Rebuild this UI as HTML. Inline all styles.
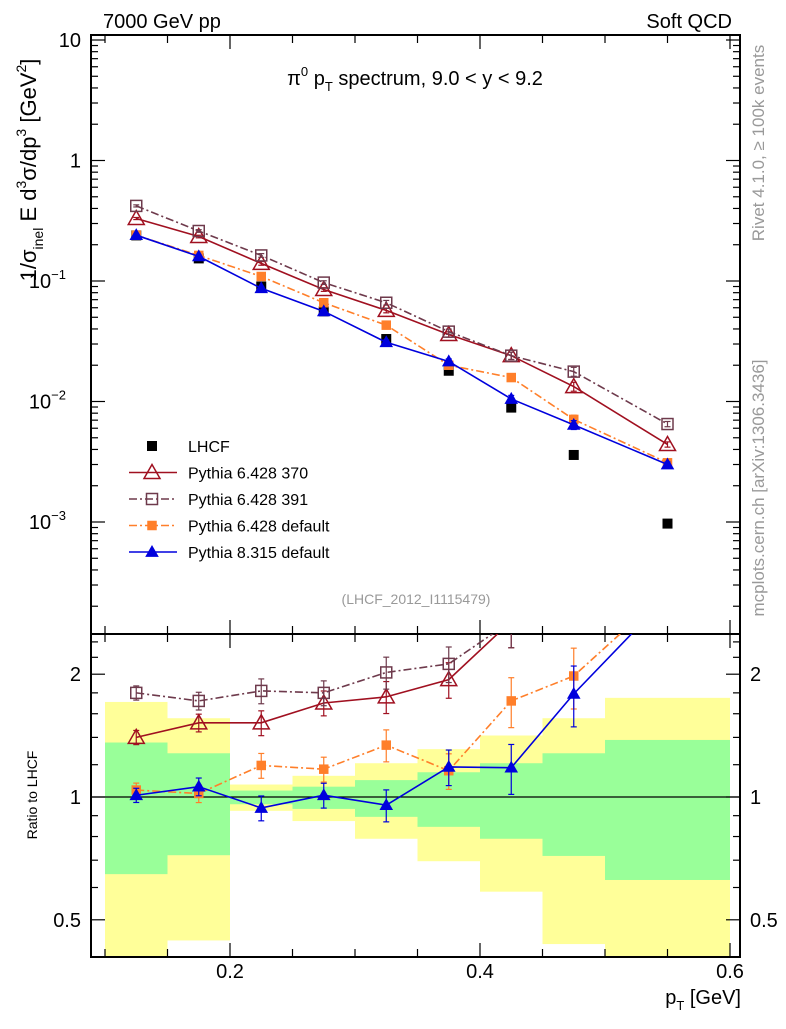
<!DOCTYPE html>
<html><head><meta charset="utf-8"><style>
body{margin:0;background:#fff}
svg{font-family:"Liberation Sans",sans-serif}
</style></head><body>
<svg id="c" width="786" height="1024" xmlns="http://www.w3.org/2000/svg"></svg>
<script>
const binEdges=[0.1,0.15,0.2,0.25,0.3,0.35,0.4,0.45,0.5,0.6];
const xVals=[0.125,0.175,0.225,0.275,0.325,0.375,0.425,0.475,0.55];
const lhcf=[0.239,0.154,0.090,0.056,0.033,0.018,0.0089,0.0036,0.00097];
const py370=[0.33,0.234,0.14,0.085,0.057,0.036,0.024,0.0133,0.0044];
const py391=[0.42,0.26,0.163,0.097,0.066,0.038,0.024,0.0177,0.0065];
const py6def=[0.24,0.163,0.109,0.066,0.043,0.020,0.0158,0.0071,0.0031];
const py8=[0.24,0.16,0.087,0.056,0.031,0.0215,0.0105,0.0064,0.003];
const r370=[1.40,1.52,1.52,1.70,1.76,1.94,2.7,3.7,4.5];
const r391=[1.80,1.72,1.82,1.80,2.02,2.12,2.7,4.9,6.7];
const r6def=[1.04,1.02,1.195,1.17,1.34,1.16,1.72,1.98,3.2];
const r8=[1.01,1.06,0.94,1.01,0.955,1.185,1.18,1.79,3.1];
const relErr=[0.04,0.05,0.07,0.07,0.09,0.10,0.14,0.17,0.10];
const yelHi=[1.71,1.56,1.073,1.127,1.21,1.31,1.415,1.56,1.75];
const yelLo=[0.3,0.445,0.925,0.873,0.79,0.696,0.586,0.436,0.3];
const grnHi=[1.36,1.28,1.037,1.06,1.10,1.15,1.21,1.28,1.38];
const grnLo=[0.647,0.72,0.96,0.935,0.894,0.845,0.79,0.717,0.626];
const xTicks=[0.2,0.4,0.6];
const mainTicks=[10,1,0.1,0.01,0.001];
const mainTickLabels=["10","1","10","10","10"];
const mainTickSup=["","","−1","−2","−3"];
const ratioTicks=[2,1,0.5];

const L=91,R=740,T=35,MB=634,RB=957;
const X=v=>230+(v-0.2)*1250;
const Y=v=>40-(Math.log10(v)-1)*120.5;
const YR=v=>797-Math.log2(v)*122.8;
const svg=document.getElementById('c');
const NS='http://www.w3.org/2000/svg';
function mk(tag,a,parent){const e=document.createElementNS(NS,tag);for(const k in a)e.setAttribute(k,a[k]);(parent||svg).appendChild(e);return e;}

const defs=mk('defs',{});
const c1=mk('clipPath',{id:'cm'},defs);mk('rect',{x:L,y:T,width:R-L,height:MB-T},c1);
const c2=mk('clipPath',{id:'cr'},defs);mk('rect',{x:L,y:MB,width:R-L,height:RB-MB},c2);

const gb=mk('g',{'clip-path':'url(#cr)'});


for(let i=0;i<xVals.length;i++){
  const x0=X(binEdges[i]),x1=X(binEdges[i+1]);
  const y=mk('rect',{x:x0,y:YR(yelHi[i]),width:x1-x0,height:YR(yelLo[i])-YR(yelHi[i]),fill:'#ffff99'},gb);
  
  
  const g=mk('rect',{x:x0,y:YR(grnHi[i]),width:x1-x0,height:YR(grnLo[i])-YR(grnHi[i]),fill:'#99ff99'},gb);
  
  
}
mk('line',{x1:L,x2:R,y1:YR(1),y2:YR(1),stroke:'#000','stroke-width':1.2});

function frame(y0,y1,name){const f=mk('rect',{x:L,y:y0,width:R-L,height:y1-y0,fill:'none',stroke:'#000','stroke-width':2});}
frame(T,MB,'main-plot-frame');frame(MB,RB,'ratio-plot-frame');
for(let v=0.1;v<=0.6001;v+=0.05){const x=X(v);const big=Math.abs(v*10-Math.round(v*10))<1e-6&&Math.round(v*10)%2==0;const len=big?14:8;
  [[T,1],[MB,-1],[MB,1],[RB,-1]].forEach(([y,d])=>mk('line',{x1:x,x2:x,y1:y,y2:y+d*len,stroke:'#000','stroke-width':1.2}));}
for(let d=-4;d<=1;d++){for(let m=1;m<10;m++){const v=m*Math.pow(10,d);const y=Y(v);if(y<T||y>MB)continue;const len=m==1?14:7;
  mk('line',{x1:L,x2:L+len,y1:y,y2:y,stroke:'#000','stroke-width':1.2});mk('line',{x1:R,x2:R-len,y1:y,y2:y,stroke:'#000','stroke-width':1.2});}}
mainTicks.forEach((v,i)=>{const t=mk('text',{x:81,y:Y(v)+7,'font-size':20,'text-anchor':'end'});t.textContent=mainTickLabels[i];
 if(mainTickSup[i]){t.setAttribute('x',66);const s=mk('tspan',{'font-size':13,dy:-9},t);s.textContent=mainTickSup[i];}
 });
[0.4,0.5,0.6,0.7,0.8,0.9,1,1.2,1.4,1.6,1.8,2,2.2,2.4].forEach(v=>{const y=YR(v);if(y<MB||y>RB)return;const len=(v==0.5||v==1||v==2)?14:7;
 mk('line',{x1:L,x2:L+len,y1:y,y2:y,stroke:'#000','stroke-width':1.2});mk('line',{x1:R,x2:R-len,y1:y,y2:y,stroke:'#000','stroke-width':1.2});});
ratioTicks.forEach(v=>{[[81,'end'],[750,'start']].forEach(([x,a])=>{const t=mk('text',{x:x,y:YR(v)+7,'font-size':20,'text-anchor':a});t.textContent=String(v);
 });});
xTicks.forEach(v=>{const t=mk('text',{x:X(v),y:978,'font-size':20,'text-anchor':'middle'});t.textContent=String(v);
 });

const series=[
 {name:'pythia-6428-370',m:py370,r:r370,c:'#a01020',dash:'',mk:'tri',fill:'none'},
 {name:'pythia-6428-391',m:py391,r:r391,c:'#6e3a4c',dash:'8,3,2,3',mk:'sq',fill:'none'},
 {name:'pythia-6428-default',m:py6def,r:r6def,c:'#ff7f2a',dash:'8,3,2,3',mk:'sq',fill:'#ff7f2a',small:true},
 {name:'pythia-8315-default',m:py8,r:r8,c:'#0000dd',dash:'',mk:'tri',fill:'#0000dd',small:true}];
function marker(g,type,x,y,c,fill,small){
 if(type=='sq'){const s=small?8:11;return mk('rect',{x:x-s/2,y:y-s/2,width:s,height:s,fill:fill=='none'?'#fff':fill,'fill-opacity':fill=='none'?0:1,stroke:c,'stroke-width':1.5},g);}
 const s=small?5.5:8;return mk('polygon',{points:`${x-s},${y+s*0.75} ${x+s},${y+s*0.75} ${x},${y-s}`,fill:fill=='none'?'#fff':fill,'fill-opacity':fill=='none'?0:1,stroke:c,'stroke-width':1.5},g);}
function drawSeries(s,vals,Yf,clip,err){
 const g=mk('g',{'clip-path':clip});
 
 
 mk('polyline',{points:vals.map((v,i)=>X(xVals[i])+','+Yf(v)).join(' '),fill:'none',stroke:s.c,'stroke-width':1.6,'stroke-dasharray':s.dash},g);
 vals.forEach((v,i)=>{const x=X(xVals[i]);const e=err[i];
  mk('line',{x1:x,x2:x,y1:Yf(v*(1+e)),y2:Yf(v*(1-e)),stroke:s.c,'stroke-width':1.2},g);
  [v*(1+e),v*(1-e)].forEach(w=>mk('line',{x1:x-3,x2:x+3,y1:Yf(w),y2:Yf(w),stroke:s.c,'stroke-width':1.2},g));
  const p=marker(g,s.mk,x,Yf(v),s.c,s.fill,s.small);
  
  });
}
const gl=mk('g',{'clip-path':'url(#cm)'});


lhcf.forEach((v,i)=>{const p=mk('rect',{x:X(xVals[i])-5,y:Y(v)-5,width:10,height:10,fill:'#000'},gl);
 
 });
series.forEach(s=>{drawSeries(s,s.m,Y,'url(#cm)',relErr.map(e=>e*0.5));drawSeries(s,s.r,YR,'url(#cr)',relErr);});

const leg=[['LHCF',null],['Pythia 6.428 370',series[0]],['Pythia 6.428 391',series[1]],['Pythia 6.428 default',series[2]],['Pythia 8.315 default',series[3]]];
leg.forEach(([lab,s],i)=>{const y=446+i*26.5;const g=mk('g',{});
 
 
 if(!s)mk('rect',{x:147,y:y-5,width:10,height:10,fill:'#000'},g);
 else{mk('line',{x1:129,x2:177,y1:y,y2:y,stroke:s.c,'stroke-width':1.6,'stroke-dasharray':s.dash},g);marker(g,s.mk,152,y,s.c,s.fill,s.small);}
 const t=mk('text',{x:188,y:y+6,'font-size':16},g);t.textContent=lab;});
</script>
<svg width="786" height="1024" style="position:absolute;left:0;top:0" xmlns="http://www.w3.org/2000/svg" font-family="Liberation Sans, sans-serif">
<text x="103" y="28" font-size="20">7000 GeV pp</text>
<text x="732" y="28" font-size="20" text-anchor="end">Soft QCD</text>
<text x="415" y="85" font-size="20" text-anchor="middle">π<tspan font-size="13" dy="-9">0</tspan><tspan dy="9"> p</tspan><tspan font-size="13" dy="6">T</tspan><tspan dy="-6"> spectrum, 9.0 &lt; y &lt; 9.2</tspan></text>
<text x="416" y="604" font-size="14" fill="#999" text-anchor="middle">(LHCF_2012_I1115479)</text>
<text transform="translate(36,170) rotate(-90)" font-size="22" text-anchor="middle">1/σ<tspan font-size="14" dy="7">inel</tspan><tspan dy="-7"> E d</tspan><tspan font-size="14" dy="-10">3</tspan><tspan dy="10">σ/dp</tspan><tspan font-size="14" dy="-10">3</tspan><tspan dy="10"> [GeV</tspan><tspan font-size="14" dy="-10">2</tspan><tspan dy="10">]</tspan></text>
<text transform="translate(37,795) rotate(-90)" font-size="14" text-anchor="middle">Ratio to LHCF</text>
<text x="741" y="1004" font-size="20" text-anchor="end">p<tspan font-size="13" dy="6">T</tspan><tspan dy="-6"> [GeV]</tspan></text>
<text transform="translate(764,143) rotate(-90)" font-size="17" fill="#999" text-anchor="middle">Rivet 4.1.0, ≥ 100k events</text>
<text transform="translate(764,488) rotate(-90)" font-size="17" fill="#999" text-anchor="middle">mcplots.cern.ch [arXiv:1306.3436]</text>
</svg>
</body></html>
